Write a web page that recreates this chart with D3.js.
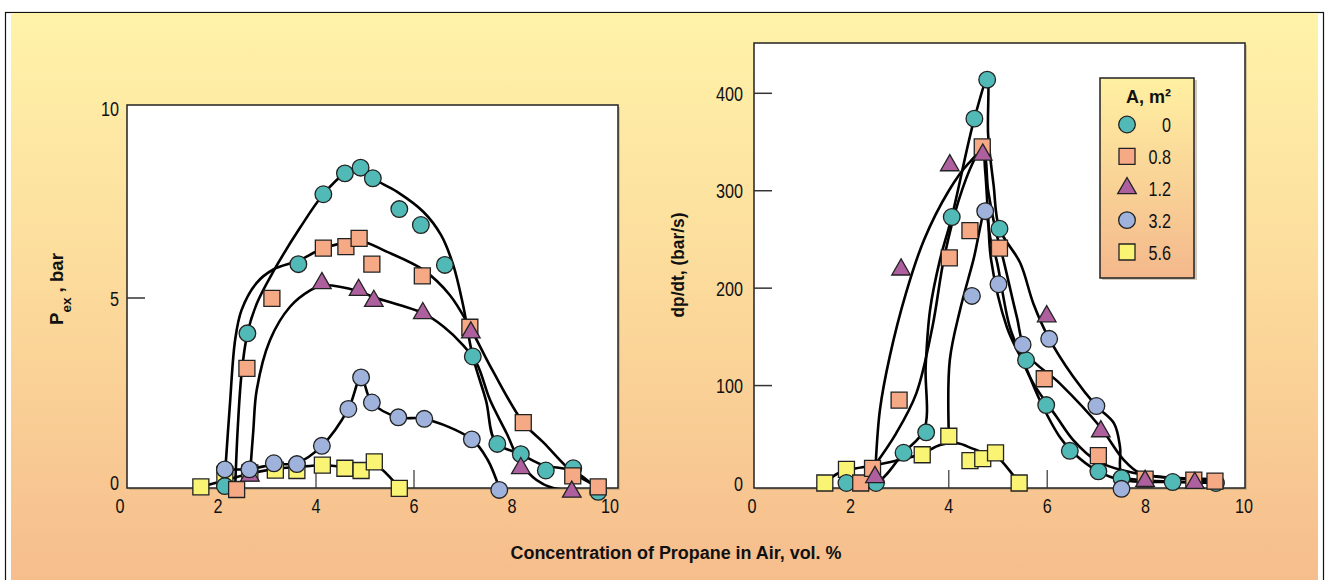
<!DOCTYPE html>
<html lang="en">
<head>
<meta charset="UTF-8">
<title>Propane in air: Pex and dp/dt</title>
<script src="https://d3js.org/d3.v7.min.js"></script>
<style>
  body { margin: 0; background: #fff; }
  svg text { font-family: "Liberation Sans", Arial, sans-serif; fill: #111; }
  .tick-label { font-size: 21px; }
  .axis-title { font-size: 18px; font-weight: bold; }
</style>
</head>
<body>
<svg id="chart" width="1326" height="580"></svg>
<script>
// legend / series
const areaLabels = ["0", "0.8", "1.2", "3.2", "5.6"];
const areaColors = ["#52bab6", "#f5aa85", "#ad5f9e", "#9eb2db", "#faf475"];
const areaShapes = ["circle", "square", "triangle", "circle", "square"];

// left panel: Pex (bar) vs concentration, measured points
const pexA0  = [[2.14,0.05],[2.60,4.07],[3.64,5.89],[4.15,7.73],[4.59,8.28],[4.91,8.43],[5.16,8.15],[5.70,7.34],[6.14,6.92],[6.63,5.87],[7.20,3.46],[7.70,1.16],[8.18,0.89],[8.69,0.46],[9.25,0.52],[9.76,-0.1]];
const pexA08 = [[2.38,-0.04],[2.59,3.15],[3.10,4.99],[4.15,6.31],[4.61,6.35],[4.88,6.57],[5.14,5.89],[6.17,5.58],[7.14,4.23],[8.23,1.72],[9.24,0.32],[9.76,0.03]];
const pexA12 = [[2.65,0.32],[4.12,5.39],[4.87,5.21],[5.18,4.92],[6.18,4.60],[7.16,4.09],[8.18,0.52],[9.22,-0.1]];
const pexA32 = [[2.14,0.49],[2.64,0.49],[3.14,0.65],[3.61,0.63],[4.12,1.11],[4.66,2.08],[4.92,2.91],[5.14,2.25],[5.68,1.86],[6.21,1.82],[7.18,1.28],[7.74,-0.05]];
const pexA56 = [[1.65,0.03],[2.14,0.35],[2.65,0.40],[3.17,0.47],[3.61,0.46],[4.13,0.60],[4.59,0.52],[4.92,0.46],[5.19,0.69],[5.70,-0.01]];

// left panel: hand drawn fit curves
const pexFitA0  = [[2.35,0],[2.40,1.5],[2.48,3.0],[2.60,4.07],[2.79,4.85],[3.13,5.7],[3.67,6.84],[4.15,7.73],[4.59,8.28],[4.91,8.43],[5.16,8.15],[5.65,7.8],[6.19,7.27],[6.55,6.66],[6.80,5.87],[7.0,4.82],[7.2,3.46],[7.47,2.3],[7.67,1.2],[8.18,0.89],[8.64,0.6],[9.25,0.45],[9.76,-0.05]];
const pexFitA08 = [[2.14,0.3],[2.24,2.14],[2.35,3.9],[2.48,4.68],[2.79,5.4],[3.13,5.75],[3.64,5.98],[4.15,6.3],[4.88,6.5],[5.44,6.22],[6.19,5.74],[6.73,5.08],[7.14,4.23],[7.6,3.1],[8.23,1.72],[8.64,1.2],[9.25,0.4],[9.73,0.05]];
const pexFitA12 = [[2.65,0.3],[2.72,1.5],[2.79,2.58],[3.06,3.89],[3.47,4.77],[3.88,5.2],[4.12,5.33],[4.87,5.18],[5.18,5.02],[6.18,4.6],[6.6,4.25],[7.0,3.76],[7.28,3.28],[7.55,2.32],[7.89,1.44],[8.18,0.65],[8.5,0.21],[8.84,0],[9.22,-0.05]];
const pexFitA32 = [[2.14,0.49],[2.64,0.5],[3.14,0.62],[3.61,0.66],[4.12,1.11],[4.66,2.08],[4.92,2.91],[5.14,2.25],[5.68,1.86],[6.21,1.82],[7.18,1.28],[7.5,0.75],[7.74,0]];
const pexFitA56 = [[1.65,0.03],[2.14,0.2],[2.65,0.38],[3.17,0.5],[3.61,0.55],[4.13,0.6],[4.59,0.55],[4.92,0.5],[5.19,0.62],[5.7,0]];

// right panel: dp/dt (bar/s) vs concentration, measured points
const dpA0  = [[1.92,0],[2.52,0],[3.08,31],[3.54,52],[4.06,273],[4.52,374],[4.78,414],[5.03,261],[5.57,126],[5.98,80],[6.46,33],[7.04,12],[7.51,5],[8.55,1],[9.43,0]];
const dpA08 = [[2.21,0],[2.45,15],[2.99,85],[4.01,231],[4.43,259],[4.68,345],[5.03,241],[5.94,107],[7.04,28],[7.99,4],[8.98,3],[9.41,2]];
const dpA12 = [[2.50,6],[3.03,219],[4.02,326],[4.69,337],[5.99,171],[7.09,53],[7.99,2],[9.00,0]];
const dpA32 = [[4.47,192],[4.74,279],[5.01,204],[5.50,142],[6.04,148],[7.00,79],[7.51,-6]];
const dpA56 = [[1.48,0],[1.92,14],[3.46,29],[4.00,48],[4.43,23],[4.69,25],[4.95,31],[5.43,0]];

// right panel: fit curves
const dpFitA0  = [[1.92,0],[2.52,0],[3.08,31],[3.5,55],[3.53,120],[3.62,178],[3.82,229],[4.06,273],[4.52,374],[4.78,414],[4.80,357],[4.91,306],[5.03,261],[5.45,226],[5.72,184],[6.02,150],[6.53,109],[7.0,79],[7.36,61],[7.48,37],[7.52,8],[7.9,3],[8.55,1.5],[9.43,0.5]];
const dpFitA08 = [[2.45,15],[2.93,51],[3.34,92],[3.67,161],[3.9,230],[4.2,290],[4.5,330],[4.68,345],[4.74,320],[4.80,272],[4.86,229],[5.18,160],[5.45,130],[5.72,102],[6.19,68],[6.53,44],[7.0,23],[7.89,9],[9.38,4]];
const dpFitA12 = [[2.5,5],[2.6,75],[2.8,130],[3.13,195],[3.5,250],[4.0,300],[4.4,328],[4.69,340],[4.8,300],[4.95,260],[5.11,229],[5.38,171],[5.58,133],[6.26,102],[7.07,58],[7.55,24],[7.89,10],[8.56,5],[9.38,3]];
const dpFitA32 = [[4.0,50],[4.02,126],[4.23,178],[4.5,229],[4.74,279],[4.85,250],[4.97,229],[5.24,160],[5.51,126],[5.85,85],[6.26,47],[6.53,31],[7.0,13],[7.51,3],[8.56,1],[9.43,0]];
const dpFitA56 = [[1.48,0],[1.75,10],[2.0,14],[2.45,18],[3.1,25],[3.46,30],[3.82,39],[4.16,41],[4.5,35],[4.77,30],[4.95,28],[5.43,0]];

const xTicks = [0, 2, 4, 6, 8, 10];
const pexTicks = [0, 5, 10];
const dpTicks = [0, 100, 200, 300, 400];
const innerXTicks = [4, 6];

const NARROW = 0.77; // condensed look for the tick numbers

const svg = d3.select("#chart");
const defs = svg.append("defs");

const bg = defs.append("linearGradient").attr("id", "bg").attr("x1", 0).attr("y1", 0).attr("x2", 0).attr("y2", 1);
bg.append("stop").attr("offset", "0%").attr("stop-color", "#fff3a9");
bg.append("stop").attr("offset", "45%").attr("stop-color", "#fcdc9c");
bg.append("stop").attr("offset", "100%").attr("stop-color", "#f6bd8d");

const lg = defs.append("linearGradient").attr("id", "legbg").attr("x1", 0).attr("y1", 0).attr("x2", 0).attr("y2", 1);
lg.append("stop").attr("offset", "0%").attr("stop-color", "#fff0a2");
lg.append("stop").attr("offset", "100%").attr("stop-color", "#f4b88c");

// outer frame
svg.append("rect").attr("x", 5.5).attr("y", 12.5).attr("width", 1318).attr("height", 580)
  .attr("fill", "#fff").attr("stroke", "#111").attr("stroke-width", 1.2);
svg.append("rect").attr("x", 11).attr("y", 13).attr("width", 1307).attr("height", 567).attr("fill", "url(#bg)");

function symbolFor(shape) {
  if (shape === "square") return d3.symbol(d3.symbolSquare, 256);
  if (shape === "triangle") return d3.symbol(d3.symbolTriangle, 150);
  return d3.symbol(d3.symbolCircle, 218);
}

function panel(id, box, x, y, yTicks, points, fits, yPad, zeroNudge) {
  // white plot area with a faint shadow
  svg.append("rect").attr("x", box.x0 + 2).attr("y", box.y0 + 2)
    .attr("width", box.x1 - box.x0).attr("height", box.y1 - box.y0).attr("fill", "#8a7a60").attr("opacity", 0.35);
  svg.append("rect").attr("x", box.x0).attr("y", box.y0)
    .attr("width", box.x1 - box.x0).attr("height", box.y1 - box.y0)
    .attr("fill", "#fff").attr("stroke", "#222").attr("stroke-width", 1.5);

  defs.append("clipPath").attr("id", "clip-" + id).append("rect")
    .attr("x", box.x0).attr("y", box.y0).attr("width", box.x1 - box.x0).attr("height", box.y1 - box.y0);

  // inner ticks
  svg.selectAll(null).data(yTicks.filter(t => y(t) > box.y0 + 4 && y(t) < box.y1 - 8)).join("line")
    .attr("x1", box.x0).attr("x2", box.x0 + 18).attr("y1", d => y(d)).attr("y2", d => y(d))
    .attr("stroke", "#333").attr("stroke-width", 1.5);
  svg.selectAll(null).data(innerXTicks).join("line")
    .attr("x1", d => x(d)).attr("x2", d => x(d)).attr("y1", box.y1).attr("y2", box.y1 - 18)
    .attr("stroke", "#333").attr("stroke-width", 1.2);

  // tick labels
  svg.selectAll(null).data(yTicks).join("text").attr("class", "tick-label").attr("text-anchor", "end")
    .attr("transform", d => `translate(${box.x0 - yPad},${y(d) + 7.5 - (d === 0 ? zeroNudge : 0)}) scale(${NARROW},1)`)
    .text(d => d);
  svg.selectAll(null).data(xTicks).join("text").attr("class", "tick-label").attr("text-anchor", "middle")
    .attr("transform", d => `translate(${x(d)},513) scale(${NARROW},1)`)
    .text(d => d);

  const g = svg.append("g").attr("clip-path", "url(#clip-" + id + ")");
  const line = d3.line().x(d => x(d[0])).y(d => y(d[1])).curve(d3.curveCatmullRom.alpha(0.5));
  g.selectAll("path.fit").data(fits).join("path").attr("class", "fit")
    .attr("d", line).attr("fill", "none").attr("stroke", "#000").attr("stroke-width", 2.6);

  const order = [4, 0, 1, 2, 3];
  order.forEach(i => {
    svg.append("g").selectAll("path").data(points[i]).join("path")
      .attr("transform", d => `translate(${x(d[0])},${y(d[1])})`)
      .attr("d", symbolFor(areaShapes[i])())
      .attr("fill", areaColors[i]).attr("stroke", "#222").attr("stroke-width", 1.3);
  });
}

// left panel
const leftBox = { x0: 127, x1: 618, y0: 105, y1: 488 };
const xLeft = d3.scaleLinear().domain([0, 10]).range([120, 610]);
const yLeft = d3.scaleLinear().domain([0, 10]).range([488, 108]);
panel("left", leftBox, xLeft, yLeft, pexTicks,
  [pexA0, pexA08, pexA12, pexA32, pexA56],
  [pexFitA0, pexFitA08, pexFitA12, pexFitA32, pexFitA56], 8, 6);

// right panel
const rightBox = { x0: 754, x1: 1245, y0: 43, y1: 488 };
const xRight = d3.scaleLinear().domain([0, 10]).range([752, 1244]);
const yRight = d3.scaleLinear().domain([0, 400]).range([483, 93.3]);
panel("right", rightBox, xRight, yRight, dpTicks,
  [dpA0, dpA08, dpA12, dpA32, dpA56],
  [dpFitA0, dpFitA08, dpFitA12, dpFitA32, dpFitA56], 11, 0);

// axis titles
const pl = svg.append("text").attr("class", "axis-title").attr("text-anchor", "middle")
  .attr("transform", "translate(63,289) rotate(-90)")
  .attr("textLength", 72).attr("lengthAdjust", "spacingAndGlyphs");
pl.append("tspan").text("P");
pl.append("tspan").attr("baseline-shift", "sub").attr("font-size", "13px").text("ex");
pl.append("tspan").text(" , bar");

svg.append("text").attr("class", "axis-title").attr("text-anchor", "middle")
  .attr("transform", "translate(684,265) rotate(-90)")
  .attr("textLength", 105).attr("lengthAdjust", "spacingAndGlyphs")
  .text("dp/dt, (bar/s)");

svg.append("text").attr("class", "axis-title").attr("text-anchor", "middle")
  .attr("x", 676).attr("y", 559)
  .attr("textLength", 331).attr("lengthAdjust", "spacingAndGlyphs")
  .text("Concentration of Propane in Air, vol. %");

// legend
svg.append("rect").attr("x", 1102).attr("y", 80).attr("width", 95).attr("height", 200).attr("fill", "#8a7a60").attr("opacity", 0.4);
svg.append("rect").attr("x", 1100).attr("y", 78).attr("width", 94).attr("height", 200)
  .attr("fill", "url(#legbg)").attr("stroke", "#222").attr("stroke-width", 1.5);
svg.append("text").attr("class", "axis-title").attr("x", 1148.5).attr("y", 103).attr("text-anchor", "middle")
  .style("font-size", "19px").attr("textLength", 45).attr("lengthAdjust", "spacingAndGlyphs")
  .text("A, m²");

const legY = d3.scaleLinear().domain([0, 4]).range([124.5, 252]);
areaLabels.forEach((lab, i) => {
  svg.append("path").attr("transform", `translate(1127,${legY(i)})`)
    .attr("d", symbolFor(areaShapes[i])())
    .attr("fill", areaColors[i]).attr("stroke", "#222").attr("stroke-width", 1.3);
  svg.append("text").attr("class", "tick-label").attr("text-anchor", "end")
    .attr("transform", `translate(1171,${legY(i) + 7.5}) scale(${NARROW},1)`)
    .text(lab);
});
</script>
</body>
</html>
